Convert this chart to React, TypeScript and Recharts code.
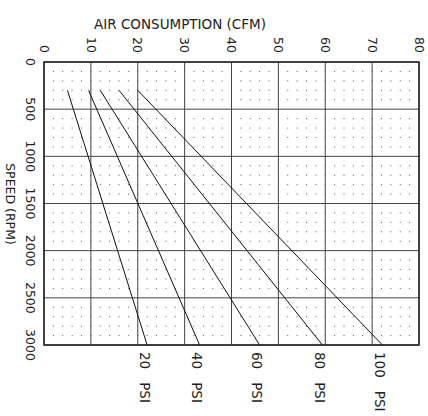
import React from "react";
import {
  LineChart,
  Line,
  XAxis,
  YAxis,
  CartesianGrid,
  ReferenceArea,
  ReferenceLine,
} from "recharts";

// Pressure curves: CFM read at 300 RPM and at 3000 RPM
const psiLabels = ["20", "40", "60", "80", "100"];
const speeds = [300, 3000];
const cfmAtLow = [5, 9.5, 12, 16, 20];
const cfmAtHigh = [22, 33.2, 46, 59.4, 72.2];

const cfmTicks = [0, 10, 20, 30, 40, 50, 60, 70, 80];
const rpmTicks = [0, 500, 1000, 1500, 2000, 2500, 3000];
// dotted minor grid every 100 RPM
const rpmMinor = Array.from({ length: 31 }, (_, i) => i * 100).filter(
  (v) => v % 500 !== 0
);

const FONT = "DejaVu Sans";
const INK = "#222";

const series = psiLabels.map((p, i) => ({
  name: p,
  data: [
    { cfm: cfmAtLow[i], rpm: speeds[0] },
    { cfm: cfmAtHigh[i], rpm: speeds[1] },
  ],
}));

const TopTick = (props: any) => {
  const { x, y, payload } = props;
  return (
    <text
      x={x}
      y={y}
      transform={`rotate(90, ${x}, ${y})`}
      textAnchor="end"
      dy="0.35em"
      fontFamily={FONT}
      fontSize={12.5}
      fill={INK}
    >
      {payload.value}
    </text>
  );
};

const LeftTick = (props: any) => {
  const { x, y, payload } = props;
  return (
    <text
      x={x}
      y={y}
      transform={`rotate(90, ${x}, ${y})`}
      textAnchor="middle"
      dy="0.35em"
      fontFamily={FONT}
      fontSize={12.5}
      fill={INK}
    >
      {payload.value}
    </text>
  );
};

const makeEndLabel = (name: string) => (props: any) => {
  const { x, y, index } = props;
  if (index !== 1) return null;
  const lx = x - 2.5;
  const ly = y + 7;
  return (
    <text
      x={lx}
      y={ly}
      transform={`rotate(90, ${lx}, ${ly})`}
      textAnchor="start"
      dy="0.35em"
      fontFamily={FONT}
      fontSize={13.5}
      fill={INK}
    >
      {name}
      <tspan dx={13}>PSI</tspan>
    </text>
  );
};

export default function App() {
  return (
    <div style={{ position: "absolute", left: 0, top: 0 }}>
      <LineChart
        width={428}
        height={416}
        margin={{ top: 42, right: 9, bottom: 71, left: 24 }}
      >
        <XAxis
          type="number"
          dataKey="cfm"
          orientation="top"
          domain={[0, 80]}
          ticks={cfmTicks}
          height={20}
          axisLine={false}
          tickLine={false}
          tickSize={0}
          tickMargin={9}
          tick={<TopTick />}
        />
        <YAxis
          type="number"
          dataKey="rpm"
          domain={[0, 3000]}
          ticks={rpmTicks}
          reversed
          width={20}
          axisLine={false}
          tickLine={false}
          tickSize={0}
          tickMargin={14}
          tick={<LeftTick />}
        />
        <CartesianGrid stroke="#444" />
        {rpmMinor.map((v) => (
          <ReferenceLine
            key={v}
            y={v}
            stroke="#555"
            strokeWidth={1}
            strokeDasharray="1 8.375"
            strokeDashoffset={0.5}
          />
        ))}
        <ReferenceArea
          x1={0}
          x2={80}
          y1={0}
          y2={3000}
          fill="none"
          stroke="#222"
          strokeWidth={1.5}
          ifOverflow="visible"
        />
        {series.map((s) => (
          <Line
            key={s.name}
            data={s.data}
            dataKey="rpm"
            stroke="#111"
            strokeWidth={1}
            dot={false}
            isAnimationActive={false}
            label={makeEndLabel(s.name)}
          />
        ))}
        <text
          x={180}
          y={29}
          textAnchor="middle"
          fontFamily={FONT}
          fontSize={13.5}
          fill={INK}
        >
          AIR CONSUMPTION (CFM)
        </text>
        <text
          x={10}
          y={204}
          transform="rotate(90, 10, 204)"
          textAnchor="middle"
          dy="0.35em"
          fontFamily={FONT}
          fontSize={12.5}
          fill={INK}
        >
          SPEED (RPM)
        </text>
      </LineChart>
    </div>
  );
}
